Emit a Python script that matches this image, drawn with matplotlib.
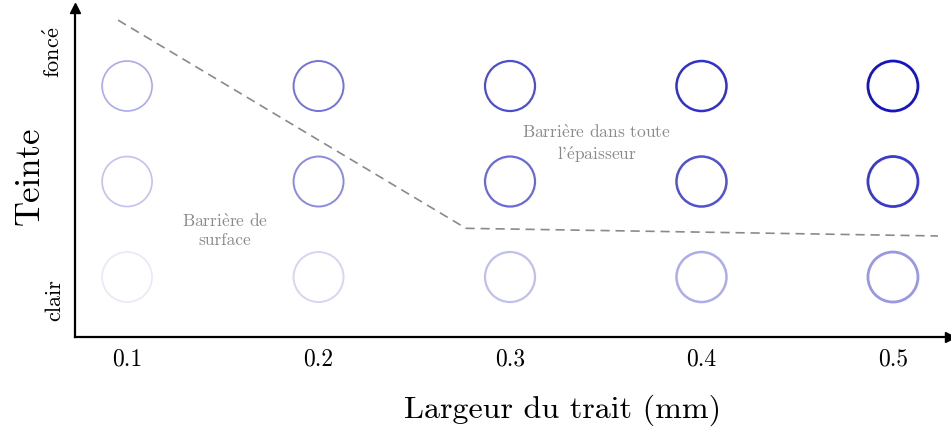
import matplotlib
matplotlib.use("Agg")
import matplotlib.pyplot as plt
import numpy as np

plt.rcParams['font.family'] = ['cmr10', 'DejaVu Serif']
plt.rcParams['mathtext.fontset'] = 'cm'

# Data
largeurs = [0.1, 0.2, 0.3, 0.4, 0.5]
niveaux = [1, 2, 3]  # clair, moyen, foncé
intensite_clair = [0.10, 0.18, 0.27, 0.35, 0.44]
intensite_moyen = [0.26, 0.50, 0.64, 0.74, 0.84]
intensite_fonce = [0.36, 0.60, 0.76, 0.88, 1.0]
epaisseur_trait = [1.2, 1.4, 1.6, 1.8, 2.0]

frontiere_x = [0.0953, 0.277, 0.5235]
frontiere_y = [3.69, 1.51, 1.43]

y_ticks = [0.76, 3.35]
y_ticklabels = ['clair', r'fonc$\acute{\mathrm{e}}$']
x_ticklabels = ['0.1', '0.2', '0.3', '0.4', '0.5']

base = np.array([0.08, 0.08, 0.76])

fig = plt.figure(figsize=(9.51, 4.30), dpi=100)
ax = fig.add_axes([75/951, 1-337/430, 875/951, 329/430])
ax.set_xlim(0.0728, 0.5298)
ax.set_ylim(0.372, 3.817)

for niv, ints in zip(niveaux, [intensite_clair, intensite_moyen, intensite_fonce]):
    cols = [tuple(1 - a * (1 - base)) for a in ints]
    ax.scatter(largeurs, [niv]*len(largeurs), s=1296, facecolors='none',
               edgecolors=cols, linewidths=epaisseur_trait, zorder=3)

ax.plot(frontiere_x, frontiere_y, ls=(0, (5.5, 3.5)), color='#8a8a8a', lw=1.2)

ax.text(0.151, 1.49, 'Barri$\\grave{\\mathrm{e}}$re de\nsurface', ha='center', va='center',
        fontsize=12.5, color='#8a8a8a', linespacing=1.25)
ax.text(0.3454, 2.39, "Barri$\\grave{\\mathrm{e}}$re dans toute\nl'$\\acute{\\mathrm{e}}$paisseur",
        ha='center', va='center', fontsize=12.5, color='#8a8a8a', linespacing=1.25)

for s in ['top', 'right']:
    ax.spines[s].set_visible(False)
for s in ['left', 'bottom']:
    ax.spines[s].set_linewidth(1.6)
ax.plot(1, 0, '>k', transform=ax.transAxes, clip_on=False, ms=7)
ax.plot(0, 1, '^k', transform=ax.transAxes, clip_on=False, ms=7)

ax.set_xticks(largeurs)
ax.set_xticklabels(x_ticklabels, fontsize=17)
ax.set_yticks(y_ticks)
ax.set_yticklabels(y_ticklabels, fontsize=16, rotation=90, va='center')
ax.tick_params(length=0, pad=8)

ax.set_xlabel('Largeur du trait (mm)', fontsize=23)
ax.xaxis.set_label_coords(0.557, -0.176)
ax.set_ylabel('Teinte', fontsize=25)
ax.yaxis.set_label_coords(-0.034, 0.49)

fig.savefig('out.png', dpi=100)
